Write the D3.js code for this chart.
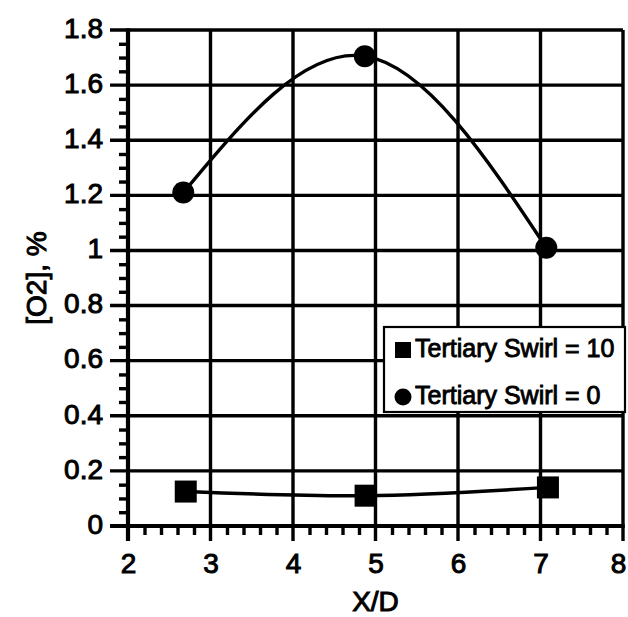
<!DOCTYPE html>
<html>
<head>
<meta charset="utf-8">
<script src="https://cdn.jsdelivr.net/npm/d3@7"></script>
<style>
  html, body { margin: 0; padding: 0; background: #fff; }
  svg { display: block; }
  text { font-family: "Liberation Sans", Arial, Helvetica, sans-serif; fill: #000; }
</style>
</head>
<body>
<svg id="chart" width="628" height="617"></svg>
<script>
// Oxygen concentration vs. axial distance, two tertiary swirl settings
const xTicks = [2, 3, 4, 5, 6, 7, 8];
const xTickLabels = ["2", "3", "4", "5", "6", "7", "8"];
const yTicks = [0, 0.2, 0.4, 0.6, 0.8, 1.0, 1.2, 1.4, 1.6, 1.8];
const yTickLabels = ["0", "0.2", "0.4", "0.6", "0.8", "1", "1.2", "1.4", "1.6", "1.8"];

const swirl10X = [2.7, 4.88, 7.09];
const swirl10Y = [0.125, 0.11, 0.14];
const swirl0X = [2.67, 4.87, 7.07];
const swirl0Y = [1.21, 1.705, 1.01];

const seriesNames = ["Tertiary Swirl = 10", "Tertiary Swirl = 0"];

const svg = d3.select("#chart");
const margin = { left: 128, top: 30, right: 5, bottom: 91 };
const W = 628 - margin.left - margin.right;
const H = 617 - margin.top - margin.bottom;

const x = d3.scaleLinear().domain([2, 8]).range([0, W]);
const y = d3.scaleLinear().domain([0, 1.8]).range([H, 0]);

const g = svg.append("g").attr("transform", `translate(${margin.left},${margin.top})`);

const ink = "#000";
const gridW = 3.4;
const labelFont = "'Liberation Sans', Arial, sans-serif";

// minor ticks: x every 0.2 (below axis), y every 0.05 (left of axis)
const xMinor = d3.range(2, 8.0001, 0.2).filter(v => Math.abs(v - Math.round(v)) > 1e-6);
const yMinor = d3.range(0, 1.8001, 0.05).filter(v => Math.abs(v / 0.2 - Math.round(v / 0.2)) > 1e-6);

g.append("g").attr("transform", `translate(0,${H})`)
  .call(d3.axisBottom(x).tickValues(xMinor).tickSize(9).tickFormat(""))
  .call(a => a.select(".domain").remove())
  .call(a => a.selectAll("line").attr("stroke", ink).attr("stroke-width", 3.4));

g.append("g")
  .call(d3.axisLeft(y).tickValues(yMinor).tickSize(9).tickFormat(""))
  .call(a => a.select(".domain").remove())
  .call(a => a.selectAll("line").attr("stroke", ink).attr("stroke-width", 3.4));

// major grid lines with outside tick extensions
g.append("g").selectAll("line").data(yTicks).join("line")
  .attr("x1", -18).attr("x2", W)
  .attr("y1", d => y(d)).attr("y2", d => y(d))
  .attr("stroke", ink).attr("stroke-width", gridW);

g.append("g").selectAll("line").data(xTicks).join("line")
  .attr("x1", d => x(d)).attr("x2", d => x(d))
  .attr("y1", 0).attr("y2", H + 15)
  .attr("stroke", ink).attr("stroke-width", gridW);

// axis lines slightly heavier
g.append("line").attr("x1", 0).attr("x2", 0).attr("y1", -1.7).attr("y2", H + 15)
  .attr("stroke", ink).attr("stroke-width", 4.2);
g.append("line").attr("x1", -18).attr("x2", W + 1.7).attr("y1", H).attr("y2", H)
  .attr("stroke", ink).attr("stroke-width", 4.2);

// tick labels
const xAxis = g.append("g").attr("transform", `translate(0,${H})`)
  .call(d3.axisBottom(x).tickValues(xTicks).tickSize(0).tickPadding(0)
    .tickFormat((d, i) => xTickLabels[i]));
xAxis.select(".domain").remove();
xAxis.selectAll("text")
  .attr("y", 47).attr("dy", null)
  .attr("x", d => (d === 8 ? -5 : 0))
  .attr("font-size", 28).attr("stroke", ink).attr("stroke-width", 1)
  .style("font-family", labelFont);

const yAxis = g.append("g")
  .call(d3.axisLeft(y).tickValues(yTicks).tickSize(0).tickPadding(0)
    .tickFormat((d, i) => yTickLabels[i]));
yAxis.select(".domain").remove();
yAxis.selectAll("text")
  .attr("x", -25).attr("dy", "0.33em").attr("y", -2)
  .attr("font-size", 28).attr("stroke", ink).attr("stroke-width", 1)
  .style("font-family", labelFont);

// axis titles
g.append("text")
  .attr("x", W / 2).attr("y", H + 85)
  .attr("text-anchor", "middle")
  .attr("font-size", 28).attr("stroke", ink).attr("stroke-width", 1)
  .text("X/D");

svg.append("text")
  .attr("transform", `translate(46,${margin.top + H / 2}) rotate(-90)`)
  .attr("text-anchor", "middle")
  .attr("font-size", 28).attr("stroke", ink).attr("stroke-width", 1)
  .text("[O2], %");

// series curves
const line = d3.line().x(d => x(d[0])).y(d => y(d[1])).curve(d3.curveNatural);
const s10 = swirl10X.map((v, i) => [v, swirl10Y[i]]);
const s0 = swirl0X.map((v, i) => [v, swirl0Y[i]]);

g.append("path").datum(s10).attr("d", line)
  .attr("fill", "none").attr("stroke", ink).attr("stroke-width", 3.4);
g.append("path").datum(s0).attr("d", line)
  .attr("fill", "none").attr("stroke", ink).attr("stroke-width", 3.4);

// markers
g.append("g").selectAll("rect").data(s10).join("rect")
  .attr("x", d => x(d[0]) - 11).attr("y", d => y(d[1]) - 11)
  .attr("width", 22).attr("height", 22).attr("fill", ink);
g.append("g").selectAll("circle").data(s0).join("circle")
  .attr("cx", d => x(d[0])).attr("cy", d => y(d[1])).attr("r", 11)
  .attr("fill", ink);

// legend
const lg = svg.append("g").attr("transform", "translate(384,327)");
lg.append("rect").attr("width", 241).attr("height", 85)
  .attr("fill", "#fff").attr("stroke", ink).attr("stroke-width", 2.2);
lg.append("rect").attr("x", 11).attr("y", 15).attr("width", 16).attr("height", 16).attr("fill", ink);
lg.append("circle").attr("cx", 19).attr("cy", 70).attr("r", 8.5).attr("fill", ink);
lg.selectAll("text.item").data(seriesNames).join("text")
  .attr("class", "item")
  .attr("x", 31).attr("y", (d, i) => 30 + i * 47)
  .attr("font-size", 25).attr("stroke", ink).attr("stroke-width", 0.9)
  .text(d => d);
</script>
</body>
</html>
